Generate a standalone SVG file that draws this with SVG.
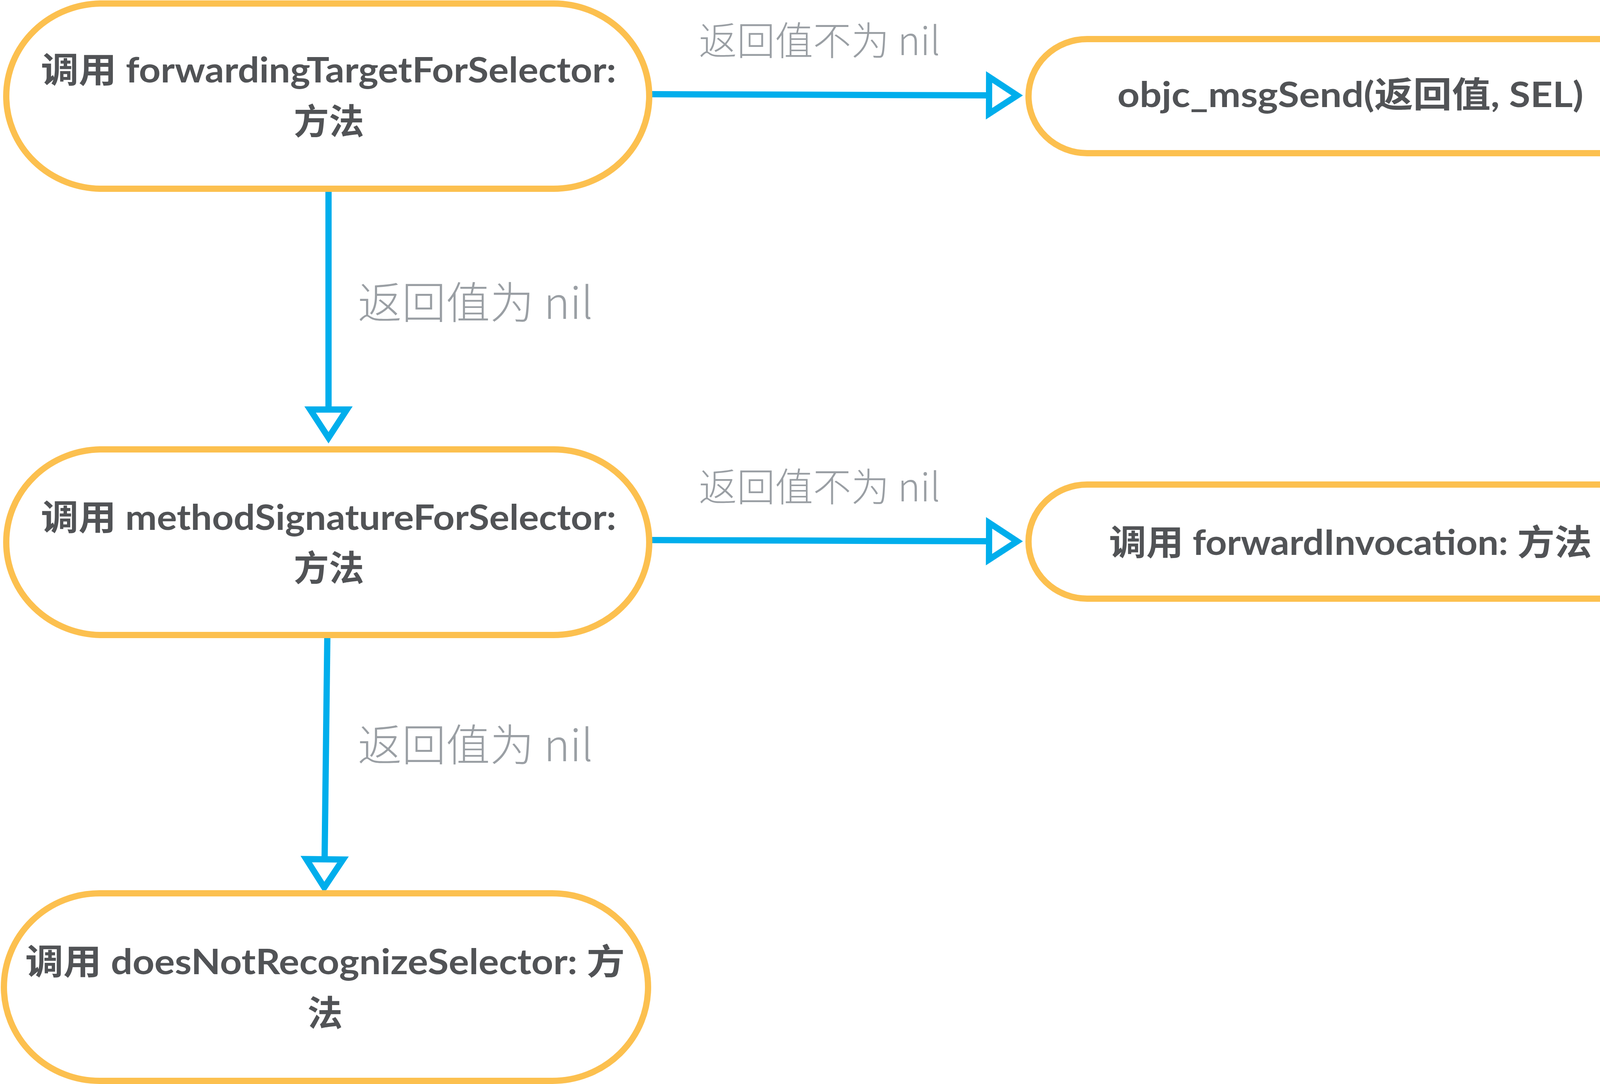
<svg xmlns="http://www.w3.org/2000/svg" width="4291" height="2774" viewBox="0 0 4291 2774">
<style>
.node{fill:#ffffff;stroke:#FCC04F;stroke-width:16}
.nt{font-family:Lato,"Noto Sans CJK SC",sans-serif;font-weight:bold;font-size:90px;fill:#515356;text-anchor:middle}
.lbl{font-family:"Noto Sans CJK SC",sans-serif;font-weight:300;fill:#9A9FA4}
.edge{fill:none;stroke:#00AEEC;stroke-width:16}
</style>
<defs>
<marker id="tri" markerUnits="userSpaceOnUse" viewBox="-20 -70 130 140" markerWidth="130" markerHeight="140" refX="0" refY="0" orient="auto" overflow="visible">
<path d="M0,-47 L72,0 L0,47 Z" fill="#ffffff" stroke="#00AEEC" stroke-width="16" stroke-linejoin="miter" stroke-miterlimit="10"/>
</marker>
</defs>
<rect width="4291" height="2774" fill="#ffffff"/>
<g id="connectors">
<path class="edge" d="M1662,241 L2532,244" marker-end="url(#tri)"/>
<path class="edge" d="M1662,1382 L2532,1385" marker-end="url(#tri)"/>
<path class="edge" d="M841,483 L841,1048" marker-end="url(#tri)"/>
<path class="edge" d="M838,1625 L831,2199" marker-end="url(#tri)"/>
<text class="lbl" x="1789" y="141" font-size="100" textLength="618" lengthAdjust="spacingAndGlyphs">返回值不为 nil</text>
<text class="lbl" x="1789" y="1283" font-size="100" textLength="618" lengthAdjust="spacingAndGlyphs">返回值不为 nil</text>
<text class="lbl" x="916" y="816" font-size="112" textLength="602" lengthAdjust="spacingAndGlyphs">返回值为 nil</text>
<text class="lbl" x="916" y="1948" font-size="112" textLength="602" lengthAdjust="spacingAndGlyphs">返回值为 nil</text>
</g>
<g id="node-forwardingTarget">
<rect class="node" x="16" y="9" width="1646" height="474" rx="245" ry="237"/>
<text class="nt" x="841" y="211" textLength="1473" lengthAdjust="spacingAndGlyphs">调用 forwardingTargetForSelector:</text>
<text class="nt" x="842" y="343">方法</text>
</g>
<g id="node-objc-msgSend">
<rect class="node" x="2633" y="100" width="1643" height="292" rx="150" ry="146"/>
<text class="nt" x="3457" y="274" textLength="1193" lengthAdjust="spacingAndGlyphs">objc_msgSend(返回值, SEL)</text>
</g>
<g id="node-methodSignature">
<rect class="node" x="16" y="1150" width="1646" height="475" rx="245" ry="237"/>
<text class="nt" x="841" y="1356" textLength="1473" lengthAdjust="spacingAndGlyphs">调用 methodSignatureForSelector:</text>
<text class="nt" x="842" y="1486">方法</text>
</g>
<g id="node-forwardInvocation">
<rect class="node" x="2633" y="1240" width="1643" height="292" rx="150" ry="146"/>
<text class="nt" x="3457" y="1420" textLength="1236" lengthAdjust="spacingAndGlyphs">调用 forwardInvocation: 方法</text>
</g>
<g id="node-doesNotRecognize">
<rect class="node" x="10" y="2286" width="1649" height="480" rx="245" ry="240"/>
<text class="nt" x="832" y="2493" textLength="1535" lengthAdjust="spacingAndGlyphs">调用 doesNotRecognizeSelector: 方</text>
<text class="nt" x="832" y="2625">法</text>
</g>
</svg>
